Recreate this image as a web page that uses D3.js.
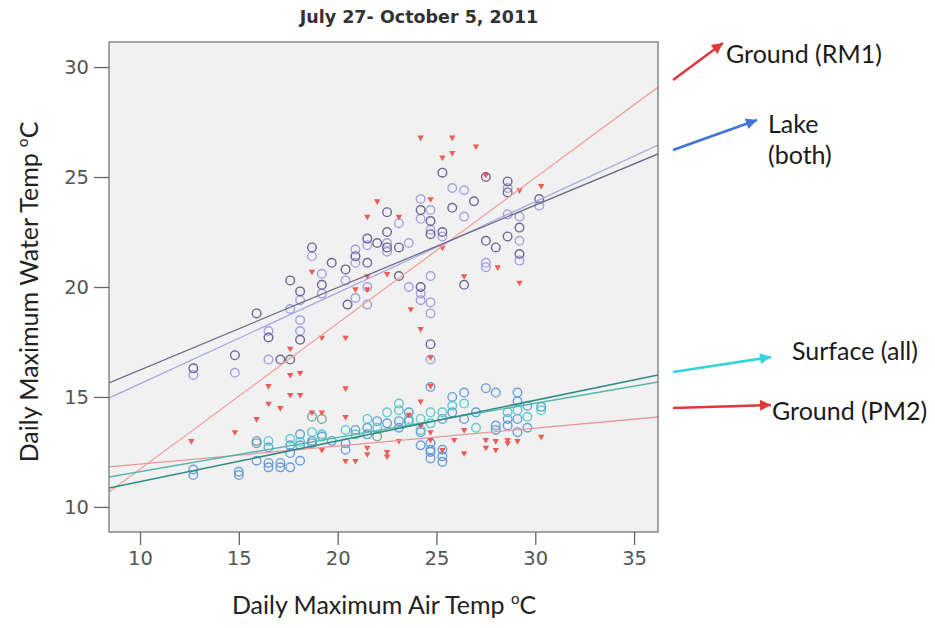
<!DOCTYPE html>
<html><head><meta charset="utf-8">
<script src="https://cdn.jsdelivr.net/npm/d3@7"></script>
<style>body{margin:0;background:#fff}svg{display:block}</style>
</head><body>
<svg id="c" width="935" height="628"></svg>
<script>
const chartTitle = "July 27- October 5, 2011";
const xTicks = [10, 15, 20, 25, 30, 35];
const yTicks = [10, 15, 20, 25, 30];

const lakeA = [[12.7,16.3],[14.8,16.9],[15.9,18.8],[16.5,17.7],[17.1,16.7],[17.6,16.7],[17.6,20.3],[18.1,19.8],[18.1,17.6],[18.7,21.8],[19.2,20.1],[19.7,21.1],[20.4,20.8],[20.9,21.4],[21.5,22.2],[21.5,21.1],[22.0,22.0],[22.5,22.5],[22.5,21.8],[23.1,21.8],[23.1,20.5],[24.2,23.5],[24.7,23.0],[24.7,22.4],[25.3,22.5],[25.3,25.2],[25.8,23.6],[26.4,20.1],[26.9,23.9],[27.5,25.0],[27.5,22.1],[28.0,21.8],[28.6,24.8],[28.6,24.3],[28.6,22.3],[29.2,22.7],[29.2,21.5],[30.2,24.0],[24.7,17.4],[24.2,20.0],[22.5,23.4],[20.5,19.2]];
const lakeB = [[12.7,16.0],[14.8,16.1],[16.5,18.0],[16.5,16.7],[17.6,19.0],[18.1,19.4],[18.1,18.5],[18.1,18.0],[18.7,21.4],[19.2,20.6],[19.2,19.7],[20.4,20.3],[20.9,21.7],[20.9,21.1],[20.9,19.5],[21.5,21.9],[21.5,20.0],[21.5,19.2],[22.5,22.0],[22.5,21.6],[23.1,22.9],[23.6,20.0],[24.2,24.0],[24.2,23.1],[24.2,19.7],[24.2,19.4],[24.7,23.5],[24.7,22.6],[24.7,20.5],[24.7,19.3],[24.7,18.8],[24.7,16.7],[25.3,22.3],[25.8,24.5],[26.4,23.2],[27.5,21.1],[27.5,20.9],[28.6,24.5],[28.6,23.3],[29.2,23.2],[29.2,22.1],[29.2,21.2],[30.2,23.7],[26.4,24.4],[23.6,22.0]];
const surfaceBlue = [[12.7,11.7],[12.7,11.45],[15.0,11.6],[15.0,11.45],[15.9,12.9],[15.9,12.1],[16.5,12.7],[16.5,12.0],[16.5,11.8],[17.1,12.0],[17.1,11.8],[17.6,11.8],[17.6,12.45],[17.6,12.8],[18.1,13.3],[18.1,12.8],[18.1,12.1],[18.7,13.0],[18.7,12.9],[19.2,13.2],[19.7,13.0],[20.4,12.6],[20.4,12.9],[20.9,13.5],[21.5,13.3],[21.5,13.6],[22.0,13.9],[22.5,13.8],[23.1,13.6],[23.1,13.9],[23.6,14.3],[23.6,13.9],[24.2,13.4],[24.2,12.8],[24.7,15.45],[24.7,12.6],[24.7,12.9],[24.7,12.5],[24.7,12.2],[25.3,14.0],[25.3,12.6],[25.3,12.3],[25.3,12.05],[25.8,15.0],[25.8,14.3],[26.4,15.2],[26.4,14.0],[27.5,15.4],[28.0,15.2],[28.0,13.7],[28.6,14.0],[28.6,13.7],[29.1,15.2],[29.1,14.8],[29.1,14.0],[29.1,13.4],[29.6,14.6],[29.6,13.6],[30.3,14.55],[27.0,14.3],[28.0,13.5]];
const surfaceTeal = [[16.5,13.0],[17.6,13.1],[18.1,12.95],[18.7,13.4],[19.2,13.3],[20.4,13.5],[20.9,13.3],[21.5,14.0],[22.0,13.6],[22.5,14.3],[23.1,14.7],[23.1,14.4],[23.6,14.0],[24.2,14.0],[24.7,14.3],[24.7,13.8],[25.3,14.3],[25.8,14.6],[26.4,14.7],[27.0,13.6],[28.6,14.3],[29.1,14.4],[29.6,14.1],[30.3,14.4],[24.2,13.5]];
const surfaceGreen = [[18.7,14.1],[19.2,14.0],[15.9,13.0],[22.0,13.2]];
const groundRM1 = [[12.6,13.0],[14.8,13.4],[15.9,14.0],[16.5,15.5],[16.5,14.7],[17.1,14.5],[17.6,17.2],[17.6,16.0],[17.6,15.1],[18.1,16.1],[18.1,15.1],[18.7,20.7],[19.2,17.7],[19.2,14.3],[20.4,17.7],[20.4,15.4],[20.4,14.1],[20.9,19.9],[21.5,20.5],[21.5,19.9],[22.0,23.9],[22.5,20.6],[23.1,23.2],[23.7,19.0],[24.2,26.8],[24.2,18.1],[24.7,24.0],[24.7,16.8],[24.7,15.5],[24.2,14.8],[25.3,25.9],[25.8,26.8],[25.8,26.1],[26.4,20.5],[27.0,26.4],[27.5,25.1],[28.1,20.9],[29.2,24.4],[29.2,20.2],[30.3,24.6],[21.5,23.2],[23.6,14.2],[18.7,14.3],[25.3,21.8]];
const groundPM2 = [[19.2,12.6],[20.4,12.1],[20.9,12.1],[21.5,12.7],[21.5,12.4],[22.5,12.5],[22.5,12.3],[23.1,13.0],[24.7,13.05],[24.7,13.4],[25.3,12.6],[25.9,13.05],[26.4,12.45],[27.5,13.05],[27.5,12.7],[28.0,13.0],[28.0,12.6],[28.6,13.05],[28.6,12.9],[29.1,13.0],[30.3,13.2],[24.2,13.7],[26.4,13.5]];

// fit lines (data units): [x0, y0, x1, y1]
const fitLakeA = [8.43, 15.64, 36.21, 26.05];
const fitLakeB = [8.43, 14.95, 36.21, 26.45];
const fitRM1 = [8.43, 10.68, 36.21, 29.09];
const fitPM2 = [8.43, 11.82, 36.21, 14.09];
const fitSurfA = [8.43, 10.86, 36.21, 16.0];
const fitSurfB = [8.43, 11.36, 36.21, 15.68];

const annotations = ["Ground (RM1)", "Lake", "(both)", "Surface (all)", "Ground (PM2)"];

const svg = d3.select("#c");
const L = 109, R = 658, T = 42, B = 532;
const x = d3.scaleLinear().domain([8.43, 36.21]).range([L, R]);
const y = d3.scaleLinear().domain([8.86, 31.14]).range([B, T]);

svg.append("rect").attr("x", L).attr("y", T).attr("width", R - L).attr("height", B - T)
  .attr("fill", "#f1f1f1").attr("stroke", "none");

const g = svg.append("g");
const defs = svg.append("defs");
defs.append("clipPath").attr("id", "clip").append("rect").attr("x", L).attr("y", T).attr("width", R - L).attr("height", B - T);
const plot = g.append("g").attr("clip-path", "url(#clip)");

function circles(data, color) {
  plot.selectAll(null).data(data).enter().append("circle")
    .attr("cx", d => x(d[0])).attr("cy", d => y(d[1])).attr("r", 4.3)
    .attr("fill", "none").attr("stroke", color).attr("stroke-width", 1.4).attr("stroke-opacity", 0.85);
}
function tris(data, color) {
  const sym = d3.symbol().type(d3.symbolTriangle).size(18);
  plot.selectAll(null).data(data).enter().append("path")
    .attr("d", sym).attr("transform", d => `translate(${x(d[0])},${y(d[1])}) rotate(180)`)
    .attr("fill", color).attr("fill-opacity", 0.9);
}
function fit(f, color, w) {
  plot.append("line").attr("x1", x(f[0])).attr("y1", y(f[1])).attr("x2", x(f[2])).attr("y2", y(f[3]))
    .attr("stroke", color).attr("stroke-width", w);
}

circles(surfaceGreen, "#6a9a88");
circles(surfaceBlue, "#5590d4");
circles(surfaceTeal, "#45c6c4");
circles(lakeB, "#9494e2");
circles(lakeA, "#5a4c8a");
tris(groundRM1, "#ec4a48");
tris(groundPM2, "#ec4a48");

fit(fitRM1, "#f0a0a0", 1.3);
fit(fitPM2, "#e89898", 1.3);
fit(fitLakeB, "#a8a8e6", 1.3);
fit(fitLakeA, "#6c6a86", 1.3);
fit(fitSurfB, "#52b8ae", 1.4);
fit(fitSurfA, "#2e8c86", 1.6);

svg.append("rect").attr("x", L).attr("y", T).attr("width", R - L).attr("height", B - T)
  .attr("fill", "none").attr("stroke", "#777").attr("stroke-width", 1.3);

// axes
const xAxis = svg.append("g").attr("transform", `translate(0,${B})`)
  .call(d3.axisBottom(x).tickValues(xTicks).tickSize(13).tickPadding(6));
const yAxis = svg.append("g").attr("transform", `translate(${L},0)`)
  .call(d3.axisLeft(y).tickValues(yTicks).tickSize(15).tickPadding(5));
[xAxis, yAxis].forEach(a => {
  a.select(".domain").remove();
  a.selectAll("line").attr("stroke", "#666").attr("stroke-width", 1.3);
  a.selectAll("text").attr("font-family", "DejaVu Sans").attr("font-size", 19.5).attr("fill", "#555");
});

// titles
svg.append("text").attr("x", 419).attr("y", 23).attr("text-anchor", "middle")
  .attr("font-family", "DejaVu Sans").attr("font-weight", "bold").attr("font-size", 17.5).attr("fill", "#333")
  .text(chartTitle);

const xt = svg.append("text").attr("x", 384).attr("y", 614).attr("text-anchor", "middle")
  .attr("font-family", "Lato").attr("font-size", 25).attr("fill", "#222");
xt.append("tspan").text("Daily Maximum Air Temp ");
xt.append("tspan").attr("font-size", 15).attr("dy", -10).text("o");
xt.append("tspan").attr("dy", 10).text("C");

const yt = svg.append("text").attr("transform", "translate(38,292) rotate(-90)").attr("text-anchor", "middle")
  .attr("font-family", "Lato").attr("font-size", 25).attr("fill", "#222");
yt.append("tspan").text("Daily Maximum Water Temp ");
yt.append("tspan").attr("font-size", 15).attr("dy", -10).text("o");
yt.append("tspan").attr("dy", 10).text("C");

// annotations
function arrow(x1, y1, x2, y2, color) {
  svg.append("line").attr("x1", x1).attr("y1", y1).attr("x2", x2).attr("y2", y2)
    .attr("stroke", color).attr("stroke-width", 2.6);
  const a = Math.atan2(y2 - y1, x2 - x1), len = 11, w = 5.5;
  const p = [[x2, y2],
    [x2 - len * Math.cos(a) + w * Math.sin(a), y2 - len * Math.sin(a) - w * Math.cos(a)],
    [x2 - len * Math.cos(a) - w * Math.sin(a), y2 - len * Math.sin(a) + w * Math.cos(a)]];
  svg.append("path").attr("d", d3.line()(p) + "Z").attr("fill", color);
}
arrow(673, 80, 723, 43, "#e0393b");
arrow(673, 150, 757, 120, "#3f74da");
arrow(673, 372, 771, 357, "#34d2da");
arrow(673, 408, 771, 405, "#e0393b");

const ann = (t, ax, ay) => svg.append("text").attr("x", ax).attr("y", ay)
  .attr("font-family", "Lato").attr("font-size", 25).attr("fill", "#1a1a1a").text(t);
ann(annotations[0], 726, 63);
ann(annotations[1], 768, 133);
ann(annotations[2], 768, 164);
ann(annotations[3], 792, 360);
ann(annotations[4], 772, 420);
</script>
</body></html>
